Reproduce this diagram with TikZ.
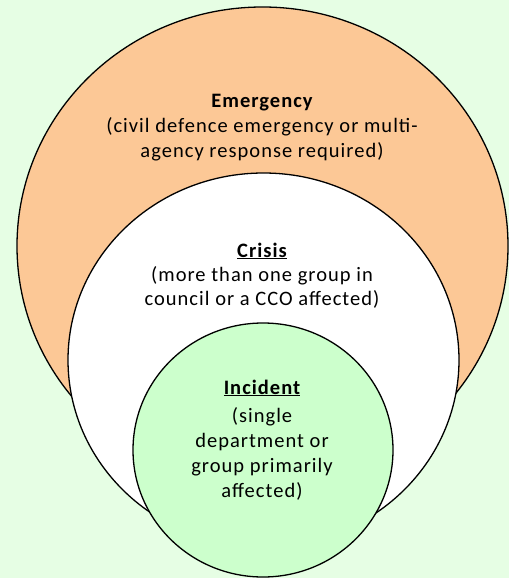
\documentclass[tikz,border=0pt]{standalone}
\usepackage{fontspec}
\setmainfont{Carlito}[LetterSpace=5]
\definecolor{bgcol}{RGB}{230,254,228}
\definecolor{orangefill}{RGB}{252,200,150}
\definecolor{greenfill}{RGB}{204,255,204}
\tikzset{
  ring/.style={draw=black, line width=1.3pt},
  txt/.style={anchor=base, inner sep=0pt, font=\fontsize{20.5}{24}\selectfont, text=black},
  ttl/.style={txt, font=\fontsize{20.5}{24}\selectfont\bfseries}
}
\begin{document}
\begin{tikzpicture}[x=1pt,y=-1pt]
\fill[bgcol] (0,0) rectangle (509,578);
\useasboundingbox (0,0) rectangle (509,578);
\draw[ring, fill=orangefill] (262.5,246) ellipse [x radius=245.5pt, y radius=239pt];
\draw[ring, fill=white] (263.5,360) ellipse [x radius=195.5pt, y radius=187pt];
\draw[ring, fill=greenfill] (263,450) ellipse [x radius=130pt, y radius=127pt];
% Emergency
\node[ttl] (em0) at (262,107) {Emergency};
\node[txt] (em1) at (262,132) {(civil defence emergency or multi-};
\node[txt] (em2) at (262,157) {agency response required)};
% Crisis
\node[ttl] (cr0) at (262,257) {\underline{Crisis}};
\node[txt] (cr1) at (262,281) {(more than one group in};
\node[txt] (cr2) at (262,305) {council or a CCO affected)};
% Incident
\node[ttl] (in0) at (262,394) {\underline{Incident}};
\node[txt] (in1) at (262,422) {(single};
\node[txt] (in2) at (262,447) {department or};
\node[txt] (in3) at (262,472) {group primarily};
\node[txt] (in4) at (262,497) {affected)};
\end{tikzpicture}
\end{document}
